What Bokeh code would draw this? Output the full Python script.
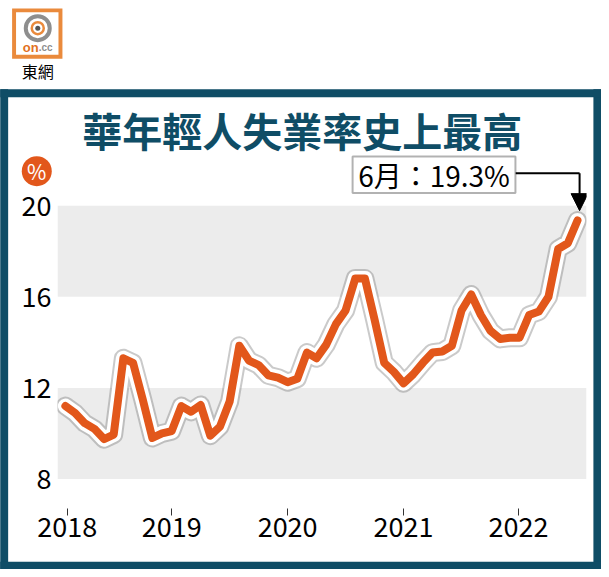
from bokeh.plotting import figure
from bokeh.models import Range1d, BoxAnnotation, Label, Arrow, NormalHead, FixedTicker, ColumnDataSource
from bokeh.core.properties import value
from bokeh.embed import file_html
from bokeh.resources import INLINE

# ---------------- data ----------------
month_index = list(range(54))  # Jan 2018 .. Jun 2022
rate = [11.2, 10.9, 10.45, 10.2, 9.75, 9.95, 13.3, 13.1, 11.5, 9.8, 10.0, 10.1,
        11.2, 10.95, 11.25, 9.9, 10.3, 11.4, 13.85, 13.2, 13.0, 12.55, 12.45, 12.25,
        12.4, 13.55, 13.3, 13.9, 14.8, 15.4, 16.8, 16.8, 15.0, 13.1, 12.7, 12.2,
        12.6, 13.1, 13.55, 13.6, 13.85, 15.4, 16.1, 15.2, 14.5, 14.15, 14.2, 14.2,
        15.2, 15.35, 16.0, 18.1, 18.35, 19.35]
year_labels = ["2018", "2019", "2020", "2021", "2022"]
year_tick_pos = [0.2, 11.0, 23.0, 35.0, 46.9]
y_ticks = [8, 12, 16, 20]
band_ranges = [(8, 12), (16, 20)]
title_text = "華年輕人失業率史上最高"
note_text = "6月：19.3%"
unit_text = "%"
logo_text = "東網"

# ---------------- layout helpers (reference pixel -> data) ----------------
W, H = 601, 569
SX, SY = W / 609.0, H / 577.0
PX0, PXM = 66.0, 9.79
PY20, PYU = 208.0, 23.08


def fx(px):
    return (px - PX0) / PXM


def fy(py):
    return 20 - (py - PY20) / PYU


TEAL = "#0f4d66"
ORANGE = "#e2571b"
LOGO_ORANGE = "#ea8a3c"
FONT = "Noto Sans CJK TC"

p = figure(width=W, height=H, output_backend="svg", toolbar_location=None,
           x_range=Range1d(fx(58), fx(594)), y_range=Range1d(fy(522), fy(150)),
           min_border_left=round(58 * SX), min_border_right=W - round(594 * SX),
           min_border_top=round(150 * SY), min_border_bottom=H - round(522 * SY))
p.xgrid.visible = False
p.ygrid.visible = False
p.outline_line_color = None
p.background_fill_color = "white"
p.border_fill_color = "white"

for lo, hi in band_ranges:
    p.add_layout(BoxAnnotation(bottom=lo, top=hi, fill_color="#ececec", fill_alpha=1.0,
                               line_color=None, level="underlay"))

src = ColumnDataSource(dict(x=month_index, y=rate))
p.line("x", "y", source=src, line_color="#7a7a7a", line_alpha=0.4, line_width=19,
       line_join="round", line_cap="round")
p.line("x", "y", source=src, line_color="white", line_width=15,
       line_join="round", line_cap="round")
p.line("x", "y", source=src, line_color=ORANGE, line_width=8,
       line_join="round", line_cap="round")

# axes
p.xaxis.ticker = FixedTicker(ticks=year_tick_pos)
p.xaxis.major_label_overrides = {t: l for t, l in zip(year_tick_pos, year_labels)}
p.xaxis.axis_line_color = None
p.xaxis.major_tick_in = 7
p.xaxis.major_tick_out = 0
p.xaxis.major_tick_line_color = "#333333"
p.xaxis.minor_tick_line_color = None
p.xaxis.major_label_standoff = 1
p.xaxis.major_label_text_font = FONT
p.xaxis.major_label_text_font_size = "27px"
p.xaxis.major_label_text_color = "black"

p.yaxis.ticker = FixedTicker(ticks=y_ticks)
p.yaxis.axis_line_color = None
p.yaxis.major_tick_in = 0
p.yaxis.major_tick_out = 0
p.yaxis.minor_tick_line_color = None
p.yaxis.major_label_standoff = 6
p.yaxis.major_label_text_font = FONT
p.yaxis.major_label_text_font_size = "27px"
p.yaxis.major_label_text_color = "black"

# annotation box + arrow
p.add_layout(BoxAnnotation(left=fx(357), right=fx(522), top=fy(158), bottom=fy(195),
                           fill_color="white", fill_alpha=1.0, line_color="black",
                           line_width=2, level="overlay"))
p.add_layout(Label(x=fx(439.5), y=fy(177), text=note_text, text_align="center",
                   text_baseline="middle", text_font=FONT, text_font_size="28px",
                   text_color="black", level="overlay"))
p.add_layout(Arrow(end=None, x_start=fx(522), y_start=fy(175), x_end=fx(587), y_end=fy(175),
                   line_color="black", line_width=2))
p.add_layout(Arrow(end=NormalHead(size=17, fill_color="black", line_color="black"),
                   x_start=fx(587), y_start=fy(175), x_end=fx(587), y_end=fy(213),
                   line_color="black", line_width=2))

# outer frame of the graphic (glyphs at overlay level are drawn outside the frame too)
frame_l = [0, 601, 0, 0]
frame_r = [8, 609, 609, 609]
frame_t = [90, 90, 90, 569]
frame_b = [577, 577, 98, 577]
p.quad(left=[fx(v) for v in frame_l], right=[fx(v) for v in frame_r],
       top=[fy(v) for v in frame_t], bottom=[fy(v) for v in frame_b],
       fill_color=TEAL, line_color=None, level="overlay")

# title
p.text(x=[fx(306)], y=[fy(131)], text=[title_text], text_align="center",
       text_baseline="middle", text_font=value(FONT), text_font_size="40px",
       text_font_style="bold", text_color=TEAL, level="overlay")

# unit marker
p.scatter([fx(37)], [fy(173)], size=30, fill_color=ORANGE, line_color=None, level="overlay")
p.text(x=[fx(37)], y=[fy(173)], text=[unit_text], text_align="center",
       text_baseline="middle", text_font=value(FONT), text_font_size="21px",
       text_color="white", level="overlay")

# logo: orange rim, white inside, ring emblem
p.quad(left=[fx(12)], right=[fx(63)], top=[fy(8)], bottom=[fy(59)],
       fill_color=LOGO_ORANGE, fill_alpha=1.0, line_color=None, level="overlay")
p.quad(left=[fx(16)], right=[fx(59)], top=[fy(12)], bottom=[fy(55)],
       fill_color="white", fill_alpha=1.0, line_color=None, level="overlay")
p.ellipse(x=[fx(38)], y=[fy(28)], width=24, height=24, width_units="screen",
          height_units="screen", fill_color="white", line_color="#8e8e8e",
          line_width=4, level="overlay")
p.ellipse(x=[fx(38)], y=[fy(28)], width=12, height=12, width_units="screen",
          height_units="screen", fill_color="white", line_color=LOGO_ORANGE,
          line_width=2.5, level="overlay")
p.ellipse(x=[fx(38)], y=[fy(28)], width=5, height=5, width_units="screen",
          height_units="screen", fill_color="#555555", line_color=None, level="overlay")
p.text(x=[fx(39)], y=[fy(48)], text=["on"], text_align="right", text_baseline="middle",
       text_font=value("Liberation Sans"), text_font_size="13px", text_font_style="bold",
       text_color="#e2711e", level="overlay")
p.text(x=[fx(39)], y=[fy(48)], text=[".cc"], text_align="left", text_baseline="middle",
       text_font=value("Liberation Sans"), text_font_size="10px", text_font_style="bold",
       text_color="#8e8e8e", level="overlay")
p.text(x=[fx(38)], y=[fy(71)], text=[logo_text], text_align="center",
       text_baseline="middle", text_font=value(FONT), text_font_size="16px",
       text_color="black", level="overlay")

open("out.html", "w").write(file_html(p, INLINE))
